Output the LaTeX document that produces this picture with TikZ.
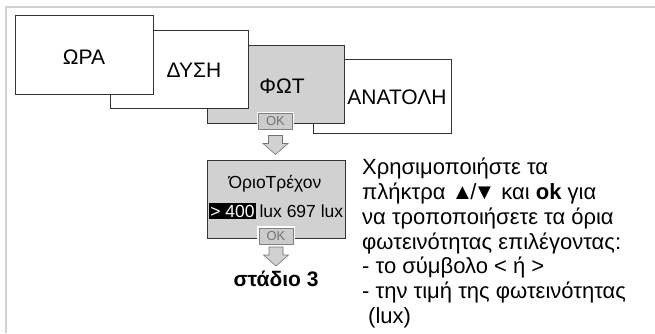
\documentclass[tikz,border=0pt]{standalone}
\usepackage{fontspec}
\setmainfont{Liberation Sans}
\usetikzlibrary{positioning}

\begin{document}
\begin{tikzpicture}[
  x=1pt, y=-1pt,
  font=\fontsize{21}{25}\selectfont,
  frame/.style={draw=black!18, line width=1.5pt},
  tab/.style={draw=black!80, line width=0.8pt, fill=white, inner sep=0pt, minimum width=138pt, minimum height=78pt},
  okbtn/.style={draw=black!50, fill=black!20, text=black!55, line width=0.6pt, inner sep=0pt,
    minimum width=34pt, minimum height=16pt, font=\fontsize{13}{15}\selectfont,
    preaction={draw=white, line width=3.5pt}},
  dnarrow/.pic={\path[draw=black!55, fill=black!18, line width=0.6pt]
    (-7,0) -- (7,0) -- (7,8) -- (12.5,8) -- (0,19) -- (-12.5,8) -- (-7,8) -- cycle;}
]
\useasboundingbox (0,0) rectangle (655,333);
\draw[frame] (654.5,7) -- (6,7) -- (6,333);

% menu tabs, back to front
\node[tab, minimum height=74pt] (anatoli) at (382,96) {};
\node[tab, fill=black!18, minimum width=137pt] (fot) at (275.5,84) {};
\node[tab] (dysi) at (179,69) {};
\node[tab, minimum height=79pt] (ora) at (84,54.5) {};
\node (anatolitxt) at (397,97) {ΑΝΑΤΟΛΗ};
\node (fottxt) at (282,86) {ΦΩΤ};
\node (dysitxt) at (194,70) {ΔΥΣΗ};
\node (oratxt) at (84,57) {ΩΡΑ};

\node[okbtn] (ok1) at (275.5,121.5) {OK};
\pic at (275.5,135.5) {dnarrow};

% limit screen
\node[tab, fill=black!18, minimum height=78pt] (limit) at (276,199) {};
\node[font=\fontsize{17.5}{20}\selectfont] (limtitle) at (275,184) {ΌριοΤρέχον};
\node[fill=black, text=white, inner sep=1.5pt, font=\fontsize{17.5}{20}\selectfont] (limval) at (232.5,211) {> 400};
\node[right=3pt of limval, inner sep=0pt, font=\fontsize{17.5}{20}\selectfont] (curval) {lux 697 lux};
\node[okbtn] (ok2) at (276,236) {OK};
\pic at (276,247) {dnarrow};
\node[font=\fontsize{21}{25}\selectfont\bfseries] (stage) at (276,279) {στάδιο 3};

\node[anchor=north west, align=left, inner sep=0pt, font=\fontsize{22}{24.8}\selectfont] (hint) at (362,158)
  {Χρησιμοποιήστε τα\\
   πλήκτρα ▲\kern-3pt/\kern-3pt▼ και \textbf{ok} για\\
   να τροποποιήσετε τα όρια\\
   φωτεινότητας επιλέγοντας:\\
   - το σύμβολο < ή >\\
   - την τιμή της φωτεινότητας\\
   \hspace*{6pt}(lux)};
\end{tikzpicture}
\end{document}
